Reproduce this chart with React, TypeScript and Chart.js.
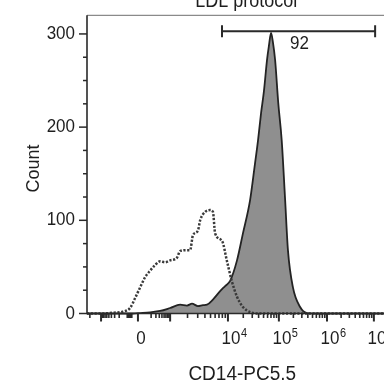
import React, { useEffect, useRef } from 'react';
import { Chart, registerables } from 'chart.js';

Chart.register(...registerables);

// ---- text ----
const titleText = 'LDL protocol';
const xTitle = 'CD14-PC5.5';
const yTitle = 'Count';
const gateLabel = '92';

// ---- logicle-like display scale: fluorescence value -> display channel (0..1000) ----
const axisValues = [-1e4, -1e3, -1e2, -1e1, 0, 1e2, 1e3, 1e4, 1e5, 1e6, 1e7];
const axisChannels = [-74, 45, 128, 150, 163, 179, 266, 451, 614, 768, 918];
const majorUnlabeled = [-1e3, 1e3];
const labeledValues = [0, 1e4, 1e5, 1e6, 1e7];
const labelBase = ['0', '10', '10', '10', '10'];
const labelExp = ['', '4', '5', '6', '7'];

// ---- y axis ----
const yMajor = [0, 100, 200, 300];
const yMinorStep = 25;
const yMax = 320;

// ---- histogram: stained (filled) ----
const solidChannels = [0, 147, 170, 202, 234, 266, 298, 320, 336, 355, 371, 384, 403, 426, 442, 458, 480, 499, 522, 538, 547, 557, 566, 576, 582, 589, 595, 602, 612, 623, 634, 643, 659, 682, 704, 730, 1000];
const solidCounts = [0, 0, 0.5, 1.3, 2.7, 5.9, 9.5, 8.5, 10.5, 8, 9, 9.5, 15, 24, 29.5, 35, 57, 86, 122, 162, 185, 215, 238, 272, 287, 301, 291, 272, 226, 186, 122, 68, 28, 7, 0.5, 0, 0];

// ---- histogram: control (dotted) ----
const dottedChannels = [0, 42, 90, 115, 138, 154, 170, 186, 202, 218, 234, 250, 266, 288, 298, 320, 330, 339, 355, 362, 378, 394, 403, 410, 432, 448, 464, 480, 499, 522, 544, 1000];
const dottedCounts = [0, 0, 1, 2, 6, 16.6, 28, 39, 46, 52, 56, 55, 57, 60, 67, 68, 68, 84, 89, 100, 109, 111, 109, 86, 78, 56, 34, 18, 7, 1.5, 0, 0];

// ---- gate ----
const gateChannels = [432, 922];
const gateCount = 303;

function toChannel(v: number): number {
  for (let i = 0; i < axisValues.length - 1; i++) {
    const a = axisValues[i], b = axisValues[i + 1];
    if (v >= a && v <= b) {
      const ca = axisChannels[i], cb = axisChannels[i + 1];
      if (a !== 0 && b !== 0 && Math.sign(a) === Math.sign(b)) {
        const t = (Math.log10(Math.abs(v)) - Math.log10(Math.abs(a))) / (Math.log10(Math.abs(b)) - Math.log10(Math.abs(a)));
        return ca + t * (cb - ca);
      }
      return ca + ((v - a) / (b - a)) * (cb - ca);
    }
  }
  return v < 0 ? axisChannels[0] : axisChannels[axisChannels.length - 1];
}

function minorValues(): number[] {
  const out: number[] = [];
  for (let i = 0; i < axisValues.length - 1; i++) {
    const a = axisValues[i], b = axisValues[i + 1];
    if (a !== 0 && b !== 0 && Math.sign(a) === Math.sign(b)) {
      const lo = Math.min(Math.abs(a), Math.abs(b));
      for (let m = 2; m <= 9; m++) out.push(Math.sign(a) * m * lo);
    }
  }
  return out;
}

function stretchedText(ctx: CanvasRenderingContext2D, s: string, x: number, y: number, align: CanvasTextAlign, font: string, sy = 1.1) {
  ctx.save();
  ctx.translate(x, y);
  ctx.scale(1, sy);
  ctx.font = font;
  ctx.textAlign = align;
  ctx.fillText(s, 0, 0);
  ctx.restore();
}

const FONT = '"Liberation Sans", Arial, sans-serif';

const axesPlugin = {
  id: 'flowAxes',
  afterDatasetsDraw(chart: any) {
    const { ctx, chartArea: ca, scales } = chart;
    const xs = scales.x, ys = scales.y;
    ctx.save();

    // frame (top/right)
    ctx.strokeStyle = '#8a8a8a';
    ctx.lineWidth = 1.2;
    ctx.beginPath();
    ctx.moveTo(ca.left, ca.top);
    ctx.lineTo(ca.right, ca.top);
    ctx.lineTo(ca.right, ca.bottom);
    ctx.stroke();

    // axes
    ctx.strokeStyle = '#2a2a2a';
    ctx.lineWidth = 1.6;
    ctx.beginPath();
    ctx.moveTo(ca.left, ca.top);
    ctx.lineTo(ca.left, ca.bottom);
    ctx.lineTo(ca.right, ca.bottom);
    ctx.stroke();

    // y ticks
    ctx.lineWidth = 1.5;
    for (let v = 0; v <= yMax; v += yMinorStep) {
      const y = ys.getPixelForValue(v);
      const major = yMajor.includes(v);
      ctx.beginPath();
      ctx.moveTo(ca.left - (major ? 8 : 4), y);
      ctx.lineTo(ca.left, y);
      ctx.stroke();
    }
    ctx.fillStyle = '#1e1e1e';
    ctx.textBaseline = 'middle';
    yMajor.forEach((v) => {
      stretchedText(ctx, String(v), ca.left - 12, ys.getPixelForValue(v), 'right', `17px ${FONT}`);
    });

    // x ticks
    const inRange = (px: number) => px >= ca.left + 1 && px <= ca.right;
    ctx.lineWidth = 1.6;
    minorValues().forEach((v) => {
      const px = xs.getPixelForValue(toChannel(v));
      if (!inRange(px)) return;
      ctx.beginPath();
      ctx.moveTo(px, ca.bottom);
      ctx.lineTo(px, ca.bottom + 4.5);
      ctx.stroke();
    });
    [...majorUnlabeled, ...labeledValues].forEach((v) => {
      const px = xs.getPixelForValue(toChannel(v));
      if (!inRange(px)) return;
      ctx.lineWidth = 2;
      ctx.beginPath();
      ctx.moveTo(px, ca.bottom);
      ctx.lineTo(px, ca.bottom + 8);
      ctx.stroke();
    });

    // x labels
    ctx.textBaseline = 'alphabetic';
    const baseY = ca.bottom + 30;
    labeledValues.forEach((v, i) => {
      const px = xs.getPixelForValue(toChannel(v)) + 3;
      if (!labelExp[i]) {
        stretchedText(ctx, labelBase[i], px, baseY, 'center', `17px ${FONT}`);
        return;
      }
      ctx.font = `17px ${FONT}`;
      const w = ctx.measureText(labelBase[i]).width;
      const left = px - w / 2;
      stretchedText(ctx, labelBase[i], left, baseY, 'left', `17px ${FONT}`);
      stretchedText(ctx, labelExp[i], left + w + 0.5, baseY - 7, 'left', `11px ${FONT}`);
    });

    // gate
    const gx1 = xs.getPixelForValue(gateChannels[0]);
    const gx2 = xs.getPixelForValue(gateChannels[1]);
    const gy = ys.getPixelForValue(gateCount);
    ctx.strokeStyle = '#2a2a2a';
    ctx.lineWidth = 2;
    ctx.beginPath();
    ctx.moveTo(gx1, gy);
    ctx.lineTo(gx2, gy);
    ctx.moveTo(gx1, gy - 6);
    ctx.lineTo(gx1, gy + 6);
    ctx.moveTo(gx2, gy - 6);
    ctx.lineTo(gx2, gy + 6);
    ctx.stroke();
    ctx.textBaseline = 'middle';
    stretchedText(ctx, gateLabel, (gx1 + gx2) / 2 + 1, gy + 13, 'center', `17px ${FONT}`);

    // titles
    ctx.textBaseline = 'alphabetic';
    stretchedText(ctx, titleText, (ca.left + ca.right) / 2 + 3, 7, 'center', `18px ${FONT}`);
    stretchedText(ctx, xTitle, (ca.left + ca.right) / 2 - 1, 380, 'center', `19px ${FONT}`);

    ctx.save();
    ctx.translate(34, (ca.top + ca.bottom) / 2 + 4);
    ctx.rotate(-Math.PI / 2);
    ctx.font = `18px ${FONT}`;
    ctx.textAlign = 'center';
    ctx.textBaseline = 'middle';
    ctx.fillText(yTitle, 0, 0);
    ctx.restore();

    ctx.restore();
  },
};

export default function App() {
  const ref = useRef<HTMLCanvasElement | null>(null);

  useEffect(() => {
    if (!ref.current) return;
    const chart = new Chart(ref.current, {
      type: 'line',
      data: {
        datasets: [
          {
            label: 'control',
            data: dottedChannels.map((x, i) => ({ x, y: dottedCounts[i] })),
            borderColor: '#3a3a3a',
            borderWidth: 2.5,
            borderDash: [2.2, 1.6],
            fill: false,
            pointRadius: 0,
            cubicInterpolationMode: 'monotone',
            order: 1,
            clip: 4,
          } as any,
          {
            label: 'CD14',
            data: solidChannels.map((x, i) => ({ x, y: solidCounts[i] })),
            borderColor: '#232323',
            borderWidth: 1.8,
            backgroundColor: '#8f8f8f',
            fill: 'origin',
            pointRadius: 0,
            cubicInterpolationMode: 'monotone',
            order: 2,
            clip: 4,
          } as any,
        ],
      },
      options: {
        responsive: false,
        animation: false,
        layout: { padding: { left: 87, top: 15.3, right: 2.5, bottom: 69.5 } },
        plugins: { legend: { display: false }, tooltip: { enabled: false } },
        scales: {
          x: { type: 'linear', min: 0, max: 1000, display: false },
          y: { type: 'linear', min: 0, max: yMax, display: false },
        },
      },
      plugins: [axesPlugin],
    });
    return () => chart.destroy();
  }, []);

  return (
    <div style={{ position: 'fixed', left: 0, top: 0, width: 384, height: 383, overflow: 'hidden', background: '#fff' }}>
      <canvas ref={ref} width={402} height={383} style={{ display: 'block', width: 402, height: 383 }} />
    </div>
  );
}
